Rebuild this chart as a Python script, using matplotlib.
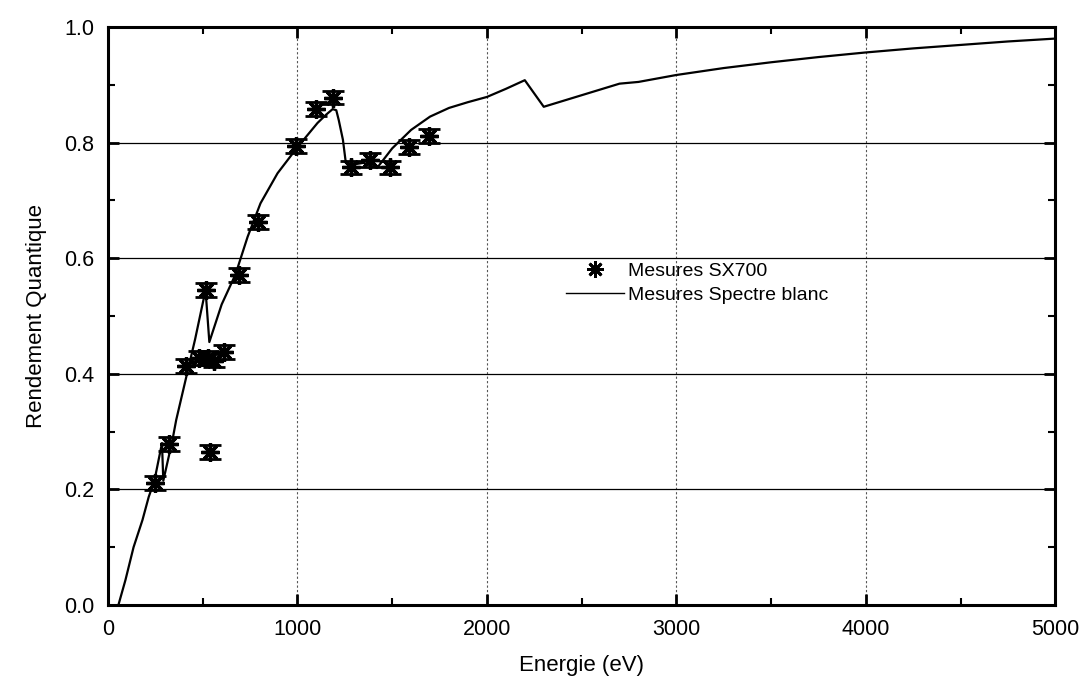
import numpy as np
import matplotlib.pyplot as plt
from matplotlib.lines import Line2D
from matplotlib.ticker import MultipleLocator

plt.rcParams['font.family'] = ['Liberation Sans', 'DejaVu Sans']

# Mesures SX700 (points with error bars)
sx_energy = [250, 320, 410, 480, 530, 560, 610, 515, 541, 690, 790, 995, 1100, 1190,
             1285, 1385, 1490, 1590, 1695]
sx_rend = [0.211, 0.279, 0.413, 0.427, 0.428, 0.423, 0.437, 0.545, 0.265, 0.571, 0.663,
           0.794, 0.858, 0.878, 0.757, 0.770, 0.757, 0.792, 0.811]
sx_err = 0.012

# Mesures Spectre blanc (curve)
sb_energy = [55, 92, 135, 182, 215, 245, 285, 292, 340, 360, 410, 460, 515, 535, 600, 673,
             737, 805, 895, 1000, 1106, 1150, 1186, 1205, 1218, 1240, 1255, 1270, 1350, 1420,
             1500, 1600, 1700, 1800, 1900, 2000, 2100, 2200, 2300, 2400, 2500, 2600, 2700,
             2800, 2900, 3000, 3250, 3500, 3750, 4000, 4250, 4500, 4750, 5000]
sb_rend = [0.0, 0.043, 0.10, 0.147, 0.187, 0.215, 0.28, 0.215, 0.285, 0.32, 0.39, 0.46, 0.545,
           0.455, 0.52, 0.572, 0.637, 0.695, 0.747, 0.792, 0.834, 0.848, 0.858, 0.856, 0.839,
           0.805, 0.766, 0.761, 0.765, 0.756, 0.79, 0.822, 0.845, 0.860, 0.870, 0.879, 0.893,
           0.908, 0.862, 0.872, 0.882, 0.892, 0.902, 0.905, 0.911, 0.917, 0.929, 0.939, 0.948,
           0.956, 0.963, 0.969, 0.975, 0.980]

fig = plt.figure(figsize=(10.82, 6.84), dpi=100)
ax = fig.add_axes([0.0998, 0.1155, 0.8755, 0.845])

ax.plot(sb_energy, sb_rend, color='black', lw=1.6, zorder=3)
ax.errorbar(sx_energy, sx_rend, yerr=sx_err, fmt='none', ecolor='black', elinewidth=1.2,
            capsize=8, capthick=2, zorder=4)
ax.plot(sx_energy, sx_rend, ls='none', marker=(8, 2, 0), ms=13, mec='black', mew=2.4, zorder=5)

ax.set_xlim(0, 5000)
ax.set_ylim(0, 1.0)
ax.xaxis.set_major_locator(MultipleLocator(1000))
ax.xaxis.set_minor_locator(MultipleLocator(500))
ax.yaxis.set_major_locator(MultipleLocator(0.2))
ax.yaxis.set_minor_locator(MultipleLocator(0.1))
ax.yaxis.set_major_formatter(plt.FormatStrFormatter('%.1f'))

ax.grid(axis='y', which='major', color='black', lw=0.9)
ax.grid(axis='x', which='major', color='#555555', lw=0.8, ls=(0, (2, 2)))

ax.tick_params(which='both', direction='in', top=True, right=True, colors='black')
ax.tick_params(which='major', length=8, width=2, labelsize=15.5, pad=10)
ax.tick_params(which='minor', length=5, width=1.5)
for s in ax.spines.values():
    s.set_linewidth(2.2)

ax.set_xlabel('Energie (eV)', fontsize=16, labelpad=11)
ax.set_ylabel('Rendement Quantique', fontsize=16, labelpad=12)

handles = [Line2D([], [], ls='none', marker=(8, 2, 0), ms=12, mec='black', mew=2),
           Line2D([], [], color='black', lw=1)]
ax.legend(handles, ['Mesures SX700', 'Mesures Spectre blanc'], loc='center left',
          bbox_to_anchor=(0.483, 0.557), frameon=False, fontsize=14, handlelength=3.0,
          handletextpad=0.2, labelspacing=0.35, borderpad=0, borderaxespad=0)

fig.savefig('out.png', dpi=100)
